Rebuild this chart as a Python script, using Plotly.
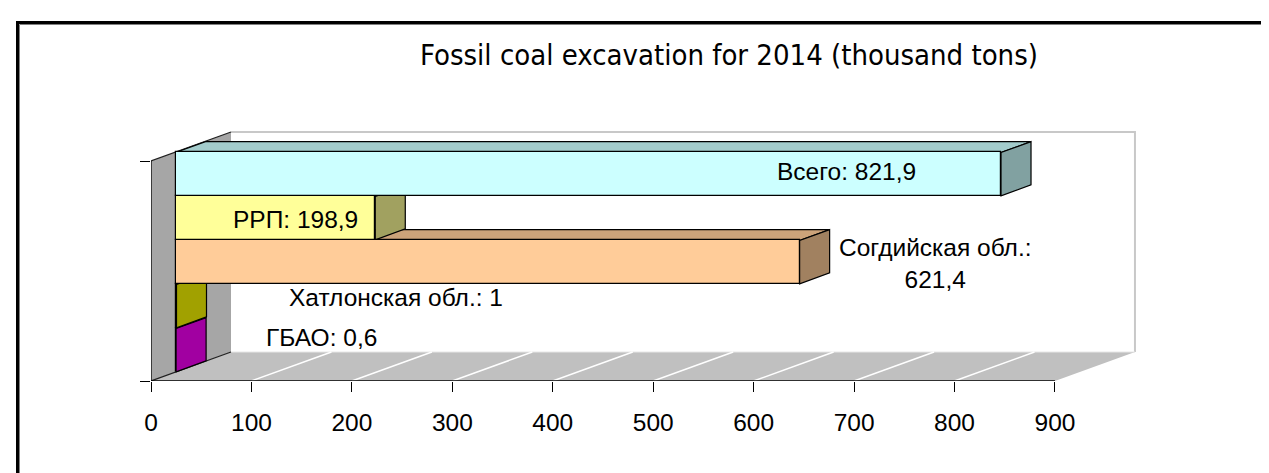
import plotly.graph_objects as go

# ---------------- data ----------------
categories = ["ГБАО", "Хатлонская обл.", "Согдийская обл.", "РРП", "Всего"]
values = [0.6, 1, 621.4, 198.9, 821.9]
value_text = ["0,6", "1", "621,4", "198,9", "821,9"]
front_colors = ["#FF00FF", "#FFFF00", "#FFCC99", "#FFFF99", "#CCFFFF"]
x_ticks = [0, 100, 200, 300, 400, 500, 600, 700, 800, 900]
title_text = "Fossil coal excavation for 2014 (thousand tons)"

# ---------------- geometry / style ----------------
W, H = 1269, 473
ML, MB, MR = 143, 100, 120          # margins (px)
KX = 1.0044                          # px per value unit
YU = 44.0                            # px per category unit
YMAX = 6.0
MT = H - MB - YU * YMAX
XMAX = (W - ML - MR) / KX
PW, PH = W - ML - MR, H - MT - MB

DX = 80 / KX                         # depth of the box (value units)
DY = 29 / YU                         # depth of the box (category units)
F0, F1 = 24.5 / 80, 54.5 / 80        # bar front / back depth fractions
HALF = 0.4925
NCAT = len(categories)
AXMAX = x_ticks[-1]

LABEL_FONT = "Liberation Sans, Arial"
LABEL_SIZE = 24.5


def shade(hexcol, f):
    h = hexcol.lstrip("#")
    r, g, b = (int(h[i:i + 2], 16) for i in (0, 2, 4))
    return "#%02X%02X%02X" % (round(r * f), round(g * f), round(b * f))


def path(pts):
    return "M " + " L ".join("%.4f,%.4f" % p for p in pts) + " Z"


def px_to_paper(px, py):
    return (px - ML) / PW, (H - MB - py) / PH


shapes = []
# left wall
shapes.append(dict(type="path", xref="x", yref="y", layer="below",
                   path=path([(0, 0), (0, NCAT), (DX, NCAT + DY), (DX, DY)]),
                   fillcolor="#A6A6A6", line=dict(width=0)))
# back wall
shapes.append(dict(type="path", xref="x", yref="y", layer="below",
                   path=path([(DX, DY), (DX, NCAT + DY), (AXMAX + DX, NCAT + DY), (AXMAX + DX, DY)]),
                   fillcolor="white", line=dict(width=0)))
shapes.append(dict(type="path", xref="x", yref="y", layer="below",
                   path="M %.4f,%.4f L %.4f,%.4f L %.4f,%.4f" % (DX, NCAT + DY, AXMAX + DX, NCAT + DY, AXMAX + DX, DY),
                   line=dict(color="#C8C8C8", width=2)))
# floor
shapes.append(dict(type="path", xref="x", yref="y", layer="below",
                   path=path([(0, 0), (AXMAX, 0), (AXMAX + DX, DY), (DX, DY)]),
                   fillcolor="#C0C0C0", line=dict(width=0)))
shapes.append(dict(type="line", xref="x", yref="y", layer="below",
                   x0=DX, y0=DY, x1=AXMAX + DX, y1=DY, line=dict(color="#E6E6E6", width=1)))
for t in x_ticks[1:-1]:
    shapes.append(dict(type="line", xref="x", yref="y", layer="below",
                       x0=t, y0=0, x1=t + DX, y1=DY, line=dict(color="white", width=1.5)))
# wall edges
shapes.append(dict(type="line", xref="x", yref="y", layer="below",
                   x0=0, y0=0, x1=DX, y1=DY, line=dict(color="#202020", width=1.2)))
shapes.append(dict(type="line", xref="x", yref="y", layer="below",
                   x0=0, y0=NCAT, x1=DX, y1=NCAT + DY, line=dict(color="#202020", width=1.2)))

# 3-D top / side faces of the bars (bottom to top)
x0 = F0 * DX
ddx = (F1 - F0) * DX
ddy = (F1 - F0) * DY
bar_y = []
for i, (v, c) in enumerate(zip(values, front_colors)):
    yc = i + 0.5 + F0 * DY
    bar_y.append(yc)
    yb, yt = yc - HALF, yc + HALF
    top = [(x0, yt), (x0 + v, yt), (x0 + v + ddx, yt + ddy), (x0 + ddx, yt + ddy)]
    side = [(x0 + v, yb), (x0 + v, yt), (x0 + v + ddx, yt + ddy), (x0 + v + ddx, yb + ddy)]
    shapes.append(dict(type="path", xref="x", yref="y", layer="below", path=path(top),
                       fillcolor=shade(c, 0.8), line=dict(color="black", width=1.2)))
    shapes.append(dict(type="path", xref="x", yref="y", layer="below", path=path(side),
                       fillcolor=shade(c, 0.63), line=dict(color="black", width=1.2)))

# axis lines (only across the front plane)
shapes.append(dict(type="line", xref="x", yref="y", layer="above",
                   x0=0, y0=0, x1=AXMAX, y1=0, line=dict(color="black", width=1.3)))
shapes.append(dict(type="line", xref="x", yref="y", layer="above",
                   x0=0, y0=0, x1=0, y1=NCAT, line=dict(color="black", width=1.3)))

# outer frame (top + left edges visible)
fx0, fy0 = px_to_paper(9.5, H + 20)
fx1, fy1 = px_to_paper(9.5, 14.5)
fx2, fy2 = px_to_paper(W + 20, 14.5)
shapes.append(dict(type="path", xref="paper", yref="paper", layer="above",
                   path="M %.5f,%.5f L %.5f,%.5f L %.5f,%.5f" % (fx0, fy0, fx1, fy1, fx2, fy2),
                   line=dict(color="black", width=3)))
gx0, gy0 = px_to_paper(11.5, H + 20)
gx1, gy1 = px_to_paper(11.5, 16.5)
gx2, gy2 = px_to_paper(W + 20, 16.5)
shapes.append(dict(type="path", xref="paper", yref="paper", layer="above",
                   path="M %.5f,%.5f L %.5f,%.5f L %.5f,%.5f" % (gx0, gy0, gx1, gy1, gx2, gy2),
                   line=dict(color="#808080", width=1)))

fig = go.Figure()
fig.add_trace(go.Bar(
    orientation="h", x=values, y=bar_y, base=[x0] * NCAT, width=[2 * HALF] * NCAT,
    marker=dict(color=front_colors, line=dict(color="black", width=1.2)),
    hoverinfo="skip", showlegend=False,
))

# data labels
label_pos = {
    4: (692, 4.77),
    3: (144, 3.66),
    2: (781, 2.66),
    1: (244, 1.89),
    0: (170, 0.98),
}
annotations = []
for i, (cat, vt) in enumerate(zip(categories, value_text)):
    lx, ly = label_pos[i]
    txt = ("%s:<br>%s" if i == 2 else "%s: %s") % (cat, vt)
    annotations.append(dict(x=lx, y=ly, xref="x", yref="y", text=txt, showarrow=False,
                            xanchor="center", yanchor="middle", align="center",
                            font=dict(family=LABEL_FONT, size=LABEL_SIZE, color="black")))

tx, ty = px_to_paper(721, 47)
annotations.append(dict(x=tx, y=ty, xref="paper", yref="paper", text=title_text,
                        showarrow=False, xanchor="center", yanchor="middle",
                        font=dict(family="DejaVu Sans Condensed, DejaVu Sans", size=29, color="black")))

fig.update_layout(
    width=W, height=H,
    margin=dict(l=ML, r=MR, t=MT, b=MB, pad=0),
    paper_bgcolor="white", plot_bgcolor="white",
    shapes=shapes, annotations=annotations,
    bargap=0,
    xaxis=dict(range=[0, XMAX], tickvals=x_ticks, ticktext=[str(t) for t in x_ticks],
               ticks="outside", ticklen=10, tickwidth=1.3, tickcolor="black",
               showline=False, showgrid=False, zeroline=False,
               ticklabelstandoff=10,
               tickfont=dict(family=LABEL_FONT, size=LABEL_SIZE, color="black"), fixedrange=True),
    yaxis=dict(range=[0, YMAX], tickvals=[0, NCAT], ticks="outside", ticklen=10, tickwidth=1.3,
               tickcolor="black", showticklabels=False, showline=False, showgrid=False,
               zeroline=False, fixedrange=True),
)

fig.write_html("out.html")
